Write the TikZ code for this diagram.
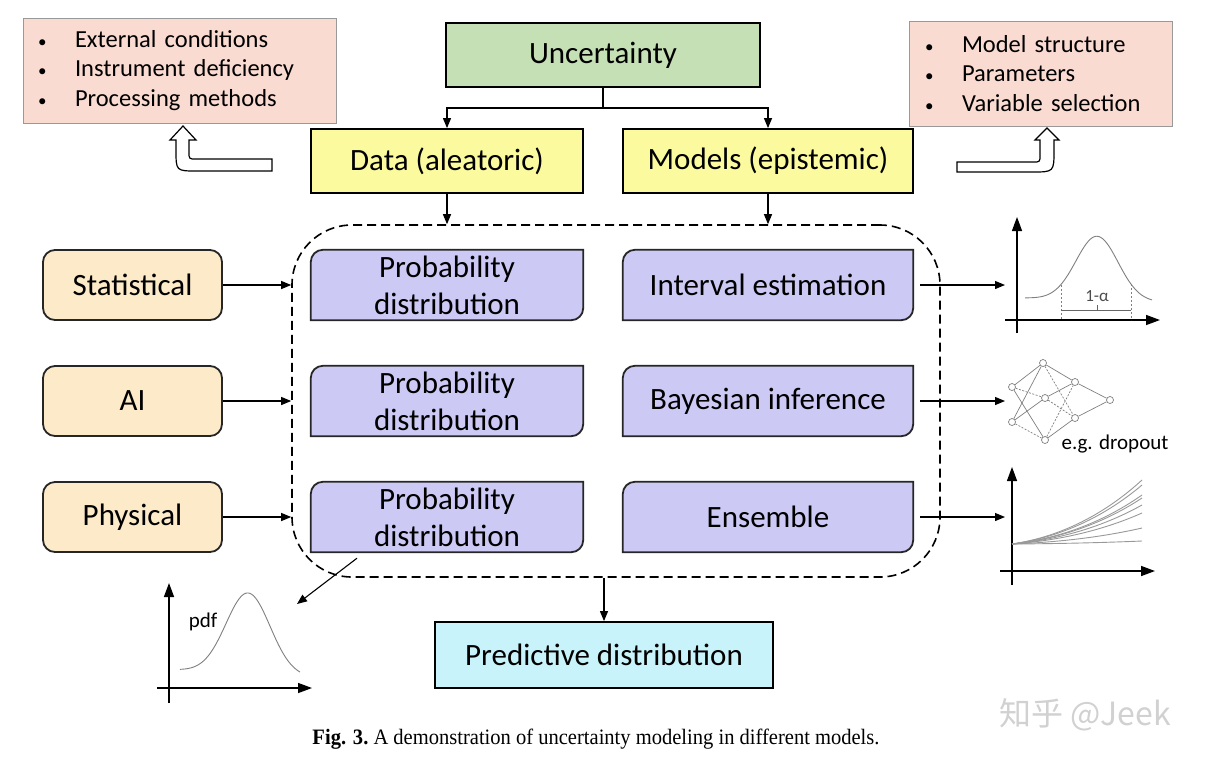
\documentclass[tikz,border=0pt]{standalone}
\usepackage{fontspec}
\usepackage{graphicx}
\setmainfont{Carlito}
\newfontfamily\capfont{Liberation Serif}
\newfontfamily\cjkfont{Noto Sans CJK SC}
\usetikzlibrary{arrows.meta,calc,backgrounds}
\definecolor{cgreen}{RGB}{197,224,180}
\definecolor{cyellow}{RGB}{252,250,158}
\definecolor{cpink}{RGB}{250,219,210}
\definecolor{cpeach}{RGB}{252,234,200}
\definecolor{cpurple}{RGB}{204,202,245}
\definecolor{ccyan}{RGB}{200,243,250}
\newcommand\bul{\makebox[37pt][l]{\fontsize{17}{17}\selectfont •}}
\tikzset{
  base/.style={font=\fontsize{31}{37}\selectfont, inner sep=0pt, align=center},
  sqbox/.style={base, draw=black, line width=1.8pt, minimum height=64pt},
  pinkbox/.style={draw=gray!80, line width=0.8pt, fill=cpink, minimum height=105pt,
     font=\fontsize{24.5}{29.5}\selectfont, align=left},
  srcbox/.style={base, draw=black!85, line width=1.8pt, fill=cpeach, rounded corners=12pt,
     minimum width=179pt, minimum height=70pt},
  pdnode/.style={base, minimum height=70pt},
  pbox/.style={draw=black!85, line width=1.8pt, fill=cpurple},
  arr/.style={-{Triangle[length=10pt,width=8pt]}, line width=1.1pt},
  axis/.style={-{Triangle[length=14pt,width=10pt]}, line width=1.4pt},
  curve/.style={gray, line width=0.9pt},
  neuron/.style={circle, draw=gray, fill=white, inner sep=0pt, minimum size=7pt, line width=0.7pt},
  nnedge/.style={gray, line width=0.7pt},
  nndash/.style={gray, line width=0.7pt, dash pattern=on 2pt off 1.5pt},
  hollow/.style={draw=black, line width=1.2pt, fill=white},
}
\newcommand\diagshape[1]{%
  \draw[pbox] (#1.north east) -- ([yshift=12pt]#1.south east)
    arc[start angle=0,end angle=-90,radius=12pt] -- (#1.south west)
    -- ([yshift=-12pt]#1.north west) arc[start angle=180,end angle=90,radius=12pt] -- cycle;}
\begin{document}
\begin{tikzpicture}[x=1pt,y=1pt]
\begin{scope}[on background layer]
\fill[white] (0,0) rectangle (1214,-764);
\end{scope}
\useasboundingbox (0,0) rectangle (1214,-764);

% top boxes
\node[pinkbox, minimum width=313pt, text width=283pt, inner xsep=15pt, inner ysep=0pt] (ptl) at (179.5,-70.5)
  {\bul External conditions\\\bul Instrument deficiency\\\bul Processing methods};
\node[pinkbox, minimum width=263pt, text width=231pt, inner xsep=16pt, inner ysep=0pt] (ptr) at (1040.5,-73.5)
  {\bul Model structure\\\bul Parameters\\\bul Variable selection};

\node[sqbox, fill=cgreen, minimum width=314pt] (unc) at (603,-55) {Uncertainty};
\node[sqbox, fill=cyellow, minimum width=272pt] (data) at (447,-161) {Data (aleatoric)};
\node[sqbox, fill=cyellow, minimum width=290pt] (models) at (768,-161) {Models (epistemic)};
\coordinate (split) at (603,-108);
\draw[line width=1.1pt] (unc.south) -- (split);
\draw[arr] (split) -| (data.north);
\draw[arr] (split) -| (models.north);

% hollow arrows
\draw[hollow] (183,-126) -- (196,-140) -- (189,-140) -- (189,-152) .. controls (189,-159) .. (196,-159)
  -- (272,-159) -- (272,-171) -- (197,-171) .. controls (176,-171) .. (176,-150) -- (176,-140) -- (170,-140) -- cycle;
\draw[hollow] (1047,-128) -- (1059,-140) -- (1054,-140) -- (1054,-150) .. controls (1054,-172) .. (1032,-172)
  -- (957,-172) -- (957,-162) -- (1033,-162) .. controls (1040,-162) .. (1040,-155) -- (1040,-140) -- (1035,-140) -- cycle;

% dashed group
\node[draw=black, line width=1.6pt, dash pattern=on 9pt off 5pt, rounded corners=60pt,
  minimum width=648pt, minimum height=352pt, inner sep=0pt] (grp) at (616,-401) {};

% source boxes
\node[srcbox] (stat) at (132.5,-285) {Statistical};
\node[srcbox] (ai) at (132.5,-401) {AI};
\node[srcbox] (phys) at (132.5,-517) {Physical};

% inner boxes
\node[pdnode, minimum width=272pt] (pd1) at (447,-285) {Probability\\distribution};
\node[pdnode, minimum width=272pt] (pd2) at (447,-401) {Probability\\distribution};
\node[pdnode, minimum width=272pt] (pd3) at (447,-517) {Probability\\distribution};
\node[pdnode, minimum width=290pt] (intv) at (768,-285) {Interval estimation};
\node[pdnode, minimum width=290pt] (bayes) at (768,-401) {Bayesian inference};
\node[pdnode, minimum width=290pt] (ens) at (768,-517) {Ensemble};
\begin{scope}[on background layer]
  \diagshape{pd1}\diagshape{pd2}\diagshape{pd3}
  \diagshape{intv}\diagshape{bayes}\diagshape{ens}
\end{scope}

\node[sqbox, fill=ccyan, minimum width=338pt, minimum height=66pt] (pred) at (604,-655) {Predictive distribution};

% connectors
\draw[arr] (data.south) -- (data.south |- grp.north);
\draw[arr] (models.south) -- (models.south |- grp.north);
\draw[arr] (stat.east) -- (stat.east -| grp.west);
\draw[arr] (ai.east) -- (ai.east -| grp.west);
\draw[arr] (phys.east) -- (phys.east -| grp.west);
\draw[arr] (grp.south -| pred.north) -- (pred.north);

\coordinate (p1in) at (1005,-285);
\coordinate (p2in) at (1005,-401);
\coordinate (p3in) at (1005,-517);
\coordinate (pdfin) at (297,-604);
\draw[arr] ([xshift=7pt]intv.east) -- (p1in);
\draw[arr] ([xshift=7pt]bayes.east) -- (p2in);
\draw[arr] ([xshift=7pt]ens.east) -- (p3in);
\draw[arr] ([xshift=-90pt,yshift=-6pt]pd3.south) -- (pdfin);

% interval plot
\draw[axis] (1017,-333) -- (1017,-217);
\draw[axis] (1005,-320) -- (1160,-320);
\draw[curve] plot[domain=1025:1152,samples=90,smooth] (\x,{-(298+4*(\x-1025)/127-64*exp(-((\x-1097)^2)/882))});
\draw[gray, line width=0.7pt, dash pattern=on 2pt off 2pt] (1061,-285) -- (1061,-320);
\draw[gray, line width=0.7pt, dash pattern=on 2pt off 2pt] (1131,-284) -- (1131,-320);
\draw[gray!80!black, line width=0.8pt] (1061,-310) -- (1131,-310);
\draw[gray!80!black, line width=0.8pt] (1097,-310) -- (1097,-305);
\node[font=\fontsize{17}{17}\selectfont, text=black!70, inner sep=0pt] (alpha) at (1097,-296) {1-α};

% neural net
\foreach \n/\x/\y in {t/1043/363, l1/1012/387, l2/1012/422, m/1045/398, b/1045/440, r1/1075/382, r2/1075/418, o/1110/400}
  \node[neuron] (nn\n) at (\x,-\y) {};
\draw[nnedge] (nnl1) -- (nnt);
\draw[nnedge] (nnl2) -- (nnt);
\draw[nnedge] (nnl2) -- (nnm);
\draw[nnedge] (nnl1) -- (nnb);
\draw[nndash] (nnl1) -- (nnm);
\draw[nndash] (nnl2) -- (nnb);
\draw[nnedge] (nnt) -- (nnr1);
\draw[nndash] (nnt) -- (nnr2);
\draw[nnedge] (nnm) -- (nnr1);
\draw[nndash] (nnm) -- (nnr2);
\draw[nndash] (nnb) -- (nnr1);
\draw[nnedge] (nnb) -- (nnr2);
\draw[nnedge] (nnr1) -- (nno);
\draw[nnedge] (nnr2) -- (nno);
\node[font=\fontsize{21}{21}\selectfont, inner sep=0pt] (drop) at (1115,-444) {e.g. dropout};

% ensemble plot
\draw[axis] (1012,-585) -- (1012,-467);
\draw[axis] (1000,-571) -- (1155,-571);
\foreach \d in {64,59,49,46,39,31,16,3}
  \draw[curve, gray!80] (1012,-544) .. controls (1055,{-544+0.1*\d}) and (1100,{-544+0.4*\d}) .. (1142,{-544+\d});

% pdf plot
\draw[axis] (169,-703) -- (169,-583);
\draw[axis] (157,-688) -- (312,-688);
\draw[curve] plot[domain=180:300,samples=90,smooth] (\x,{-(670+7*(\x-180)/120-81*exp(-((\x-248)^2)/968))});
\node[font=\fontsize{21}{21}\selectfont, inner sep=0pt] (pdf) at (203,-622) {pdf};

% caption and watermark
\node[inner sep=0pt] (cap) at (596,-739) {\resizebox{567pt}{\height}{\capfont\fontsize{22}{22}\selectfont\textbf{Fig. 3.}\ A demonstration of uncertainty modeling in different models.}};
\node[text=black!18, font=\cjkfont\fontsize{32}{32}\selectfont, inner sep=0pt] (wm) at (1085,-715) {知乎 @Jeek};
\end{tikzpicture}
\end{document}
